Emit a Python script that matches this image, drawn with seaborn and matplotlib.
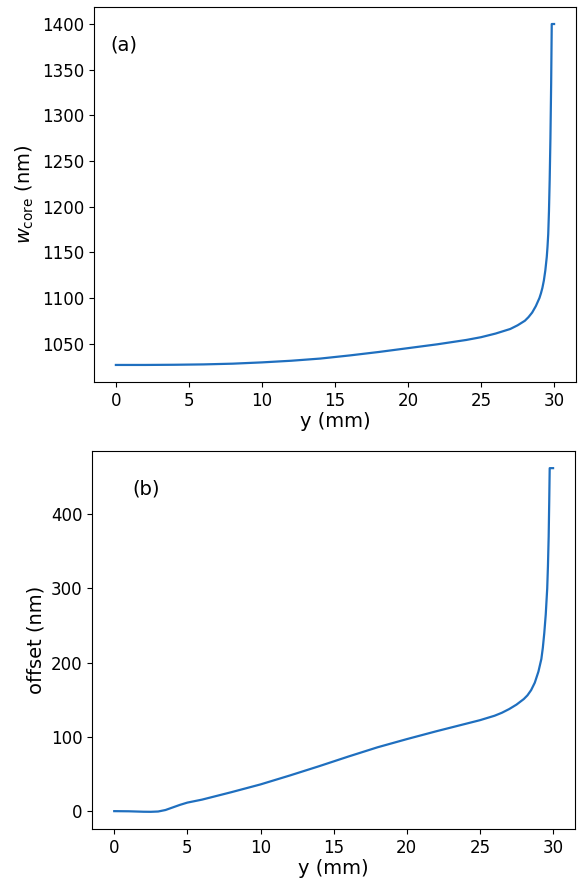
import numpy as np
import pandas as pd
import seaborn as sns
import matplotlib
matplotlib.use("Agg")
import matplotlib.pyplot as plt

# (a) core width along the taper
y_a = [0, 2, 4, 6, 8, 10, 12, 14, 16, 18, 20, 22, 24, 25, 26, 27, 27.5, 28,
       28.25, 28.5, 28.75, 29.0, 29.1, 29.2, 29.3, 29.4, 29.5, 29.55, 29.6,
       29.65, 29.7, 29.75, 29.8, 29.84, 30.0]
w_core = [1026.6, 1026.6, 1026.8, 1027.2, 1028.0, 1029.4, 1031.2, 1033.6, 1037.0,
          1040.8, 1045.0, 1049.2, 1054.0, 1057.0, 1061.0, 1066.0, 1070.0, 1075.0,
          1079.0, 1084.0, 1091.0, 1100.0, 1105.0, 1111.0, 1119.0, 1130.0, 1145.0,
          1156.0, 1170.0, 1195.0, 1230.0, 1275.0, 1335.0, 1400.0, 1400.0]

# (b) offset along the taper
y_b = [0, 1, 2, 2.5, 3, 3.5, 4, 4.5, 5, 5.5, 6, 8, 10, 12, 14, 16, 18, 20, 22,
       24, 25, 26, 26.5, 27, 27.5, 28, 28.25, 28.5, 28.75, 29.0, 29.2, 29.3,
       29.4, 29.5, 29.6, 29.65, 29.7, 29.74, 29.77, 30.0]
offset = [0.0, -0.2, -0.8, -0.9, -0.5, 1.5, 5.0, 8.5, 11.5, 13.5, 15.5, 25.5, 36.0,
          48.0, 60.5, 73.5, 86.0, 97.0, 107.5, 117.5, 122.5, 128.5, 132.5, 137.5,
          143.5, 151.0, 156.0, 163.0, 173.0, 188.0, 205.0, 220.0, 240.0, 265.0,
          300.0, 330.0, 370.0, 420.0, 462.0, 462.0]

df_a = pd.DataFrame({"y": y_a, "w": w_core})
df_b = pd.DataFrame({"y": y_b, "offset": offset})

fig = plt.figure(figsize=(5.79, 8.82), dpi=100)
ax1 = fig.add_axes([0.1623, 0.5669, 0.8325, 0.4252])
ax2 = fig.add_axes([0.1594, 0.0601, 0.8337, 0.4286])

sns.lineplot(data=df_a, x="y", y="w", ax=ax1, color="#1f6fbf", linewidth=1.6)
sns.lineplot(data=df_b, x="y", y="offset", ax=ax2, color="#1f6fbf", linewidth=1.6)

ax1.set_yticks(np.arange(1050, 1401, 50))
ax2.set_yticks(np.arange(0, 401, 100))
for ax in (ax1, ax2):
    ax.set_xticks(np.arange(0, 31, 5))
    ax.tick_params(labelsize=12)
    ax.set_xlabel("y (mm)", fontsize=14, labelpad=2)

ax1.set_ylabel(r"$w_{\mathrm{core}}$ (nm)", fontsize=14)
ax2.set_ylabel("offset (nm)", fontsize=14)

ax1.text(0.033, 0.899, "(a)", transform=ax1.transAxes, fontsize=14, va="center")
ax2.text(0.082, 0.899, "(b)", transform=ax2.transAxes, fontsize=14, va="center")

fig.savefig("out.png", dpi=100)
